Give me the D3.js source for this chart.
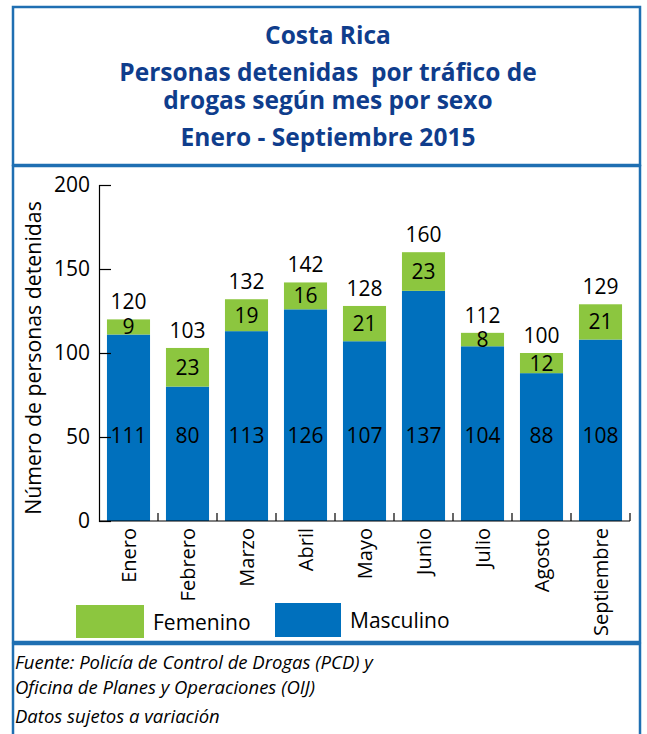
<!DOCTYPE html>
<html><head><meta charset="utf-8">
<script src="https://cdn.jsdelivr.net/npm/d3@7"></script>
<style>body{margin:0;background:#fff;}svg{display:block;}</style>
</head><body>
<script>
const months = ["Enero","Febrero","Marzo","Abril","Mayo","Junio","Julio","Agosto","Septiembre"];
const masculino = [111,80,113,126,107,137,104,88,108];
const femenino = [9,23,19,16,21,23,8,12,21];
const totals = [120,103,132,142,128,160,112,100,129];
const yTicks = [0,50,100,150,200];
const titleLines = ["Costa Rica","Personas detenidas  por tráfico de","drogas según mes por sexo","Enero - Septiembre 2015"];
const footerLines = ["Fuente: Policía de Control de Drogas (PCD) y","Oficina de Planes y Operaciones (OIJ)","Datos sujetos a variación"];

const W=647,H=734;
const GREEN="#8cc63f", BLUE="#0070bd", BORDER="#1f6fb2", TITLE="#0f3d8c";
const svg=d3.select("body").append("svg").attr("width",W).attr("height",H);

// frames
svg.append("rect").attr("x",13).attr("y",7).attr("width",627).attr("height",158).attr("fill","none").attr("stroke",BORDER).attr("stroke-width",2.5);
svg.append("rect").attr("x",13).attr("y",166).attr("width",627).attr("height",476).attr("fill","none").attr("stroke",BORDER).attr("stroke-width",2.5);
svg.append("rect").attr("x",13).attr("y",644).attr("width",627).attr("height",100).attr("fill","none").attr("stroke",BORDER).attr("stroke-width",2.5);

// title
const tY=[44,81,109,146];
svg.selectAll(".title").data(titleLines).join("text")
  .attr("x",328).attr("y",(d,i)=>tY[i]).attr("text-anchor","middle")
  .style("white-space","pre")
  .attr("font-family","Open Sans").attr("font-weight","bold").attr("font-size",24.5)
  .attr("fill",TITLE).text(d=>d);

const x=d3.scaleBand().domain(months).range([99,630]).paddingInner(0.27).paddingOuter(0.135);
const y=d3.scaleLinear().domain([0,200]).range([521,185]);

// bars
const g=svg.append("g");
g.selectAll(".m").data(months).join("rect")
  .attr("x",d=>x(d)).attr("width",x.bandwidth())
  .attr("y",(d,i)=>y(masculino[i])).attr("height",(d,i)=>y(0)-y(masculino[i])).attr("fill",BLUE);
g.selectAll(".f").data(months).join("rect")
  .attr("x",d=>x(d)).attr("width",x.bandwidth())
  .attr("y",(d,i)=>y(masculino[i]+femenino[i])).attr("height",(d,i)=>y(masculino[i])-y(masculino[i]+femenino[i])).attr("fill",GREEN);

// axes
const yAxis=svg.append("g").attr("transform","translate(99,0)")
  .call(d3.axisLeft(y).tickValues(yTicks).tickSize(-12).tickPadding(9));
yAxis.select(".domain").attr("stroke","#000").attr("stroke-width",1.2);
yAxis.selectAll("line").attr("stroke","#000").attr("stroke-width",1.2);
yAxis.selectAll("text").attr("font-family","Open Sans").attr("font-size",21).attr("fill","#000");

const bounds=[99].concat(months.map(m=>x(m)+x.bandwidth()+x.step()*x.paddingInner()/2));
const xg=svg.append("g");
xg.append("line").attr("x1",99).attr("x2",630).attr("y1",521).attr("y2",521).attr("stroke","#000").attr("stroke-width",1.2);
xg.selectAll(".xt").data(bounds.slice(1)).join("line")
  .attr("x1",d=>d).attr("x2",d=>d).attr("y1",521).attr("y2",513).attr("stroke","#000").attr("stroke-width",1.2);
xg.selectAll(".xl").data(months).join("text")
  .attr("transform",d=>`translate(${x(d)+x.bandwidth()/2+7},528) rotate(-90)`)
  .attr("text-anchor","end").attr("font-family","Open Sans").attr("font-size",20).attr("fill","#000").text(d=>d);

// y title
svg.append("text").attr("transform","translate(41,358) rotate(-90)").attr("text-anchor","middle")
  .attr("font-family","Open Sans").attr("font-size",21.3).attr("fill","#000").text("Número de personas detenidas");

// labels
const lbl={"font-family":"Open Sans","font-size":21,"fill":"#000"};
function styl(s){Object.entries(lbl).forEach(([k,v])=>s.attr(k,v));return s;}
styl(svg.selectAll(".tl").data(months).join("text")
  .attr("x",d=>x(d)+x.bandwidth()/2).attr("y",(d,i)=>y(totals[i])-10).attr("text-anchor","middle").text((d,i)=>totals[i]));
styl(svg.selectAll(".fl").data(months).join("text")
  .attr("x",d=>x(d)+x.bandwidth()/2).attr("y",(d,i)=>y(masculino[i]+femenino[i]/2)+7.5).attr("text-anchor","middle").text((d,i)=>femenino[i]));
styl(svg.selectAll(".ml").data(months).join("text")
  .attr("x",d=>x(d)+x.bandwidth()/2).attr("y",y(51)+7.5).attr("text-anchor","middle").text((d,i)=>masculino[i]));

// legend
svg.append("rect").attr("x",76).attr("y",605).attr("width",68).attr("height",33).attr("fill",GREEN);
svg.append("text").attr("x",153).attr("y",630).attr("font-family","Open Sans").attr("font-size",21).text("Femenino");
svg.append("rect").attr("x",275).attr("y",603).attr("width",66).attr("height",34).attr("fill",BLUE);
svg.append("text").attr("x",350).attr("y",628).attr("font-family","Open Sans").attr("font-size",21).text("Masculino");

// footer
const fy=[669,694,723];
svg.selectAll(".ft").data(footerLines).join("text")
  .attr("x",15).attr("y",(d,i)=>fy[i]).attr("font-family","Open Sans").attr("font-style","italic").attr("font-size",18.5)
  .attr("fill","#000").text(d=>d);
</script>
</body></html>
